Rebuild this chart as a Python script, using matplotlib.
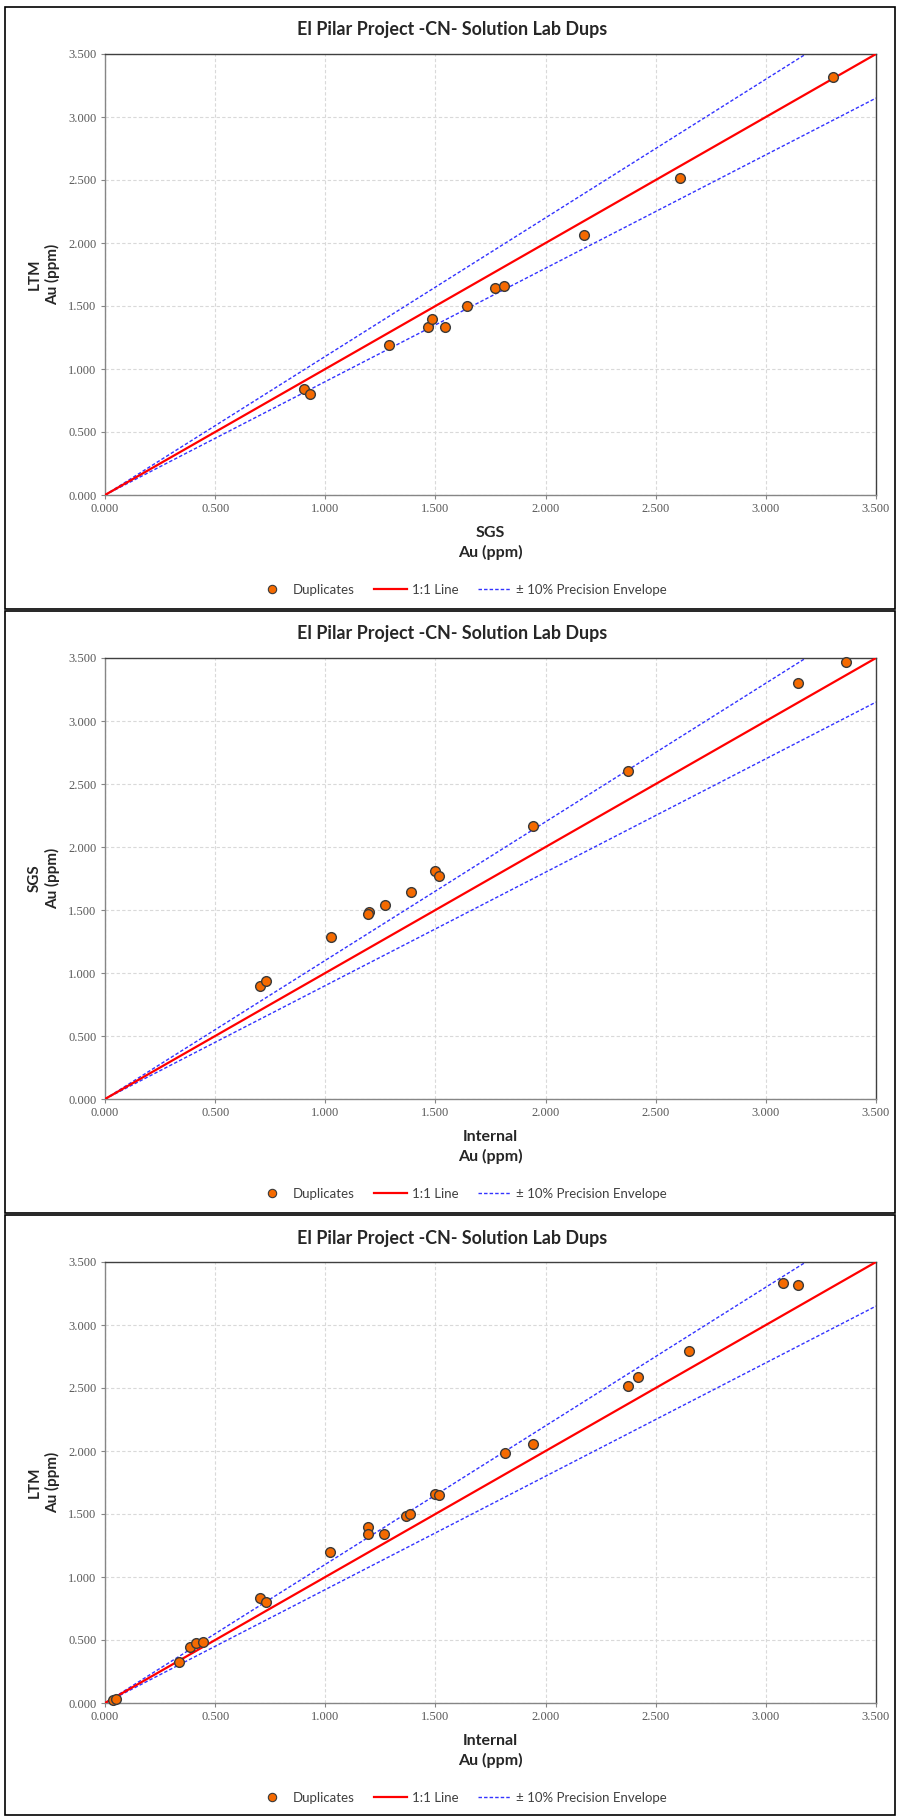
import numpy as np
import matplotlib.pyplot as plt
from matplotlib.patches import Rectangle
from matplotlib.lines import Line2D

# panel 1: SGS vs LTM
sgs_1 = [0.903, 0.929, 1.288, 1.465, 1.483, 1.542, 1.645, 1.770, 1.810, 2.174, 2.610, 3.305]
ltm_1 = [0.839, 0.799, 1.193, 1.336, 1.394, 1.333, 1.500, 1.645, 1.659, 2.063, 2.515, 3.320]

# panel 2: Internal vs SGS
internal_2 = [0.703, 0.730, 1.026, 1.197, 1.195, 1.270, 1.390, 1.500, 1.518, 1.943, 2.375, 3.148, 3.363]
sgs_2 = [0.897, 0.933, 1.288, 1.481, 1.465, 1.542, 1.645, 1.812, 1.770, 2.169, 2.604, 3.302, 3.469]

# panel 3: Internal vs LTM
internal_3 = [0.036, 0.050, 0.338, 0.388, 0.412, 0.445, 0.705, 0.730, 1.023, 1.194, 1.192, 1.266,
              1.366, 1.386, 1.497, 1.516, 1.818, 1.942, 2.374, 2.420, 2.653, 3.076, 3.148]
ltm_3 = [0.024, 0.032, 0.322, 0.444, 0.473, 0.484, 0.833, 0.802, 1.196, 1.394, 1.339, 1.339,
         1.482, 1.500, 1.662, 1.648, 1.984, 2.059, 2.518, 2.587, 2.791, 3.336, 3.320]

ticks = [0.0, 0.5, 1.0, 1.5, 2.0, 2.5, 3.0, 3.5]
line_x = np.array([0.0, 3.5])
precision = 0.10

title = "El Pilar Project -CN- Solution Lab Dups"
legend_labels = ["Duplicates", "1:1 Line", "\u00b1 10% Precision Envelope"]

W, H = 904, 1817
fig = plt.figure(figsize=(W / 100, H / 100), dpi=100)
fig.patch.set_facecolor("white")

SANS = ["Lato", "DejaVu Sans"]
SERIF = ["Liberation Serif", "DejaVu Serif"]


def fx(px):
    return px / W


def fy(py):
    return 1 - py / H


# caption of the page above, cut by the top edge like in the source
fig.text(fx(34), fy(-4), "Figure 11-5: Scatter Plots of Umpire and Internal CN Solution Lab Duplicates",
         fontsize=13, style="italic", family=SANS, ha="left", va="baseline", color="black")


def draw_panel(offset, box_top, box_bot, xs, ys, xlab, ylab):
    # outer box
    fig.patches.append(Rectangle((fx(5), fy(box_bot)), fx(895) - fx(5), fy(box_top) - fy(box_bot),
                                 transform=fig.transFigure, fill=False, edgecolor="black", lw=1.2))
    top = 54 + offset
    bot = 495 + offset
    ax = fig.add_axes([fx(105), fy(bot), fx(876) - fx(105), fy(top) - fy(bot)])
    ax.set_xlim(0, 3.5)
    ax.set_ylim(0, 3.5)
    ax.set_xticks(ticks)
    ax.set_yticks(ticks)
    ax.set_xticklabels([f"{t:.3f}" for t in ticks], family=SERIF, fontsize=9, color="#595959")
    ax.set_yticklabels([f"{t:.3f}" for t in ticks], family=SERIF, fontsize=9, color="#595959")
    ax.tick_params(length=3, width=0.8, color="#868686", pad=3)
    ax.grid(True, color="#d9d9d9", linestyle=(0, (3, 2)), lw=0.8)
    ax.set_axisbelow(True)
    for side in ["top", "right"]:
        ax.spines[side].set_color("#404040")
        ax.spines[side].set_linewidth(1.0)
    for side in ["left", "bottom"]:
        ax.spines[side].set_color("#868686")
        ax.spines[side].set_linewidth(1.0)

    ax.plot(line_x, line_x * (1 + precision), color="#3333ff", lw=1.0, linestyle=(0, (2.5, 1.5)), zorder=2)
    ax.plot(line_x, line_x * (1 - precision), color="#3333ff", lw=1.0, linestyle=(0, (2.5, 1.5)), zorder=2)
    ax.plot(line_x, line_x, color="#ff0000", lw=1.6, zorder=3)
    ax.plot(xs, ys, "o", markersize=7, markerfacecolor="#f56a00", markeredgecolor="#3a3a3a",
            markeredgewidth=1.0, zorder=4, clip_on=False)

    fig.text(fx(452), fy(30 + offset), title, fontsize=12.9, fontweight="bold", family=SANS,
             ha="center", va="center", color="#262626")
    fig.text(fx(490), fy(543 + offset), xlab + "\nAu (ppm)", fontsize=11.5, fontweight="bold",
             family=SANS, ha="center", va="center", color="#262626", linespacing=1.45)
    fig.text(fx(44), fy((top + bot) / 2), ylab + "\nAu (ppm)", fontsize=11, fontweight="bold",
             family=SANS, ha="center", va="center", rotation=90, color="#262626", linespacing=1.3)

    handles = [
        Line2D([], [], marker="o", linestyle="none", markersize=6, markerfacecolor="#f56a00",
               markeredgecolor="#3a3a3a", markeredgewidth=0.8),
        Line2D([], [], color="#ff0000", lw=1.6),
        Line2D([], [], color="#3333ff", lw=1.0, linestyle=(0, (2.5, 1.5))),
    ]
    fig.legend(handles, legend_labels, loc="center", bbox_to_anchor=(fx(461), fy(590 + offset)),
               ncol=3, frameon=False, prop={"family": SANS, "size": 9.5}, labelcolor="#404040",
               handlelength=2.5, handletextpad=0.35, columnspacing=1.5)
    return ax


draw_panel(0, 7, 609, sgs_1, ltm_1, "SGS", "LTM")
draw_panel(604, 611, 1213, internal_2, sgs_2, "Internal", "SGS")
draw_panel(1208, 1215, 1815, internal_3, ltm_3, "Internal", "LTM")

fig.savefig("out.png", dpi=100)
